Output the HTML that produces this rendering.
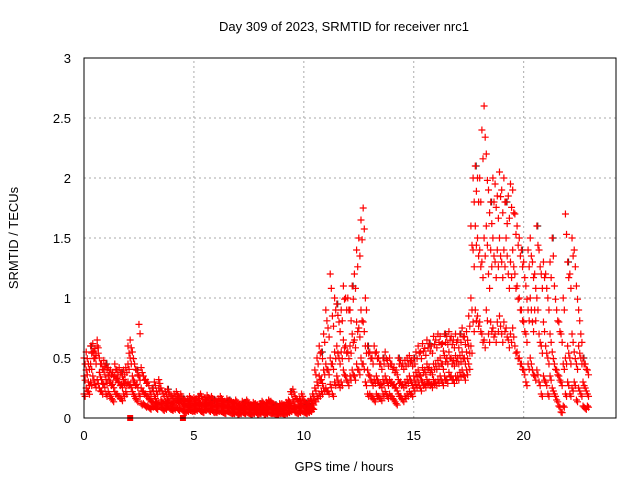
<!DOCTYPE html>
<html><head><meta charset="utf-8"><style>
body{margin:0;background:#fff}
svg{display:block;font-family:"Liberation Sans",sans-serif}
</style></head><body>
<svg id="chart" width="640" height="480">
<rect width="640" height="480" fill="#fff"/>
<text x="344" y="31" text-anchor="middle" font-size="13">Day 309 of 2023, SRMTID for receiver nrc1</text>
<text transform="translate(18,238) rotate(-90)" text-anchor="middle" font-size="13">SRMTID / TECUs</text>
<text x="344" y="471" text-anchor="middle" font-size="13">GPS time / hours</text>
<g id="grid"></g><g id="ticks"></g><g id="marks"></g>
<rect x="84" y="58" width="532" height="360" fill="none" stroke="#000"/>
</svg>
<script>
const xTicks=[0,5,10,15,20];
const yTicks=[0,0.5,1,1.5,2,2.5,3];
const yTickLabels=["0","0.5","1","1.5","2","2.5","3"];
const seriesA=[.35,.40,.30,.45,.55,.50,.60,.38,.32,.40,.32,.35,.30,.28,.35,.33,.30,.28,.32,.30,.45,.50,.35,.30,.28,.35,.25,.22,.20,.18,.15,.14,.18,.13,.25,.15,.12,.14,.16,.13,.12,.14,.16,.13,.15,.12,.10,.11,.12,.10,.12,.11,.13,.12,.10,.12,.13,.11,.12,.10,.10,.11,.12,.10,.09,.11,.10,.09,.08,.10,.08,.07,.09,.08,.10,.08,.07,.09,.08,.07,.08,.09,.07,.08,.10,.09,.08,.07,.06,.08,.08,.07,.09,.10,.12,.15,.10,.09,.10,.12,.10,.08,.09,.10,.12,.25,.30,.35,.32,.40,.45,.40,.50,.45,.55,.60,.50,.55,.65,.60,.55,.60,.70,.65,.80,.75,.90,.80,.60,.40,.35,.30,.32,.35,.30,.28,.32,.35,.30,.32,.30,.28,.25,.32,.30,.28,.30,.32,.35,.30,.35,.38,.40,.35,.42,.40,.45,.42,.40,.45,.45,.48,.50,.45,.52,.50,.55,.50,.48,.52,.50,.52,.55,.50,.55,.60,1.00,1.40,1.60,1.50,1.40,1.30,1.50,1.60,1.20,1.40,1.50,1.30,1.40,1.50,1.30,1.40,1.50,1.20,1.30,1.40,1.20,1.10,1.00,.90,.80,.70,.90,1.00,.80,.90,1.00,.70,.60,.80,.60,.50,.70,.55,.45,.40,.35,.30,.45,.50,.60,.50,.70,.55,.45,.60,.50,.30,.25,.20];
const seriesB=[.50,.55,.45,.60,.62,.58,.65,.50,.45,.48,.45,.42,.40,.38,.45,.40,.42,.38,.40,.42,.60,.65,.55,.45,.40,.78,.42,.35,.32,.30,.22,.25,.30,.22,.32,.25,.20,.22,.24,.20,.18,.20,.22,.18,.20,.16,.15,.16,.18,.15,.17,.16,.18,.20,.15,.17,.19,.16,.18,.15,.15,.16,.18,.15,.14,.16,.15,.14,.13,.15,.12,.11,.14,.13,.15,.12,.11,.13,.12,.11,.12,.14,.11,.13,.15,.14,.12,.11,.10,.12,.12,.11,.13,.15,.22,.24,.18,.15,.16,.20,.15,.12,.14,.16,.20,.40,.50,.60,.55,.70,.90,.75,1.20,.85,1.00,.95,.80,.90,1.10,1.00,1.00,.90,1.10,1.20,1.40,1.50,1.65,1.75,1.00,.60,.55,.50,.60,.55,.50,.45,.50,.55,.48,.50,.45,.42,.40,.50,.48,.45,.48,.50,.52,.48,.50,.55,.60,.55,.62,.58,.65,.62,.60,.68,.65,.70,.68,.62,.70,.68,.72,.68,.65,.70,.65,.70,.75,.68,.72,.85,1.60,2.00,2.10,2.00,2.00,2.40,2.60,2.20,1.90,1.80,2.00,1.95,1.85,2.05,1.90,2.00,1.80,1.85,1.95,1.90,1.70,1.60,1.50,1.40,1.30,1.10,1.40,1.50,1.30,1.20,1.60,1.40,1.20,1.30,1.20,1.00,1.30,1.50,1.10,.90,.80,.70,1.00,1.70,1.30,1.20,1.50,1.40,1.10,.90,.70,.50,.45,.40];
const seriesC=[.20,.25,.22,.30,.35,.28,.32,.25,.22,.28,.20,.22,.18,.15,.22,.20,.18,.16,.20,.22,.30,.28,.22,.18,.15,.20,.12,.12,.10,.10,.08,.10,.10,.08,.12,.09,.07,.08,.10,.08,.07,.08,.09,.07,.08,.06,.05,.06,.07,.06,.06,.07,.08,.06,.05,.07,.08,.06,.07,.05,.05,.06,.06,.05,.04,.06,.05,.04,.04,.05,.03,.04,.05,.04,.05,.04,.03,.04,.05,.03,.04,.05,.03,.04,.05,.04,.04,.03,.03,.04,.04,.03,.04,.05,.06,.08,.05,.04,.05,.06,.05,.04,.05,.06,.08,.15,.18,.20,.22,.25,.25,.22,.28,.20,.30,.35,.28,.30,.40,.35,.30,.35,.40,.35,.45,.40,.50,.45,.30,.20,.20,.18,.15,.20,.18,.16,.20,.22,.18,.20,.18,.15,.12,.20,.18,.15,.18,.20,.22,.20,.25,.28,.30,.25,.30,.28,.32,.30,.28,.32,.30,.32,.35,.30,.35,.32,.38,.35,.32,.35,.35,.38,.40,.35,.40,.45,.60,.80,.90,.85,.80,.70,.65,.90,.70,.80,.75,.70,.80,.85,.70,.80,.75,.65,.70,.75,.60,.55,.50,.45,.40,.30,.45,.50,.40,.35,.40,.30,.20,.35,.30,.20,.35,.25,.20,.15,.10,.05,.10,.20,.30,.20,.25,.30,.15,.25,.20,.10,.08,.10];
const squareTimes=[2.1,4.5];
const squareValues=[0,0];
const X0=84,X1=616,XMAX=24.2,Y0=418,Y1=58,YMAX=3;
const xs=v=>X0+(X1-X0)*v/XMAX, ys=v=>Y0-(Y0-Y1)*v/YMAX;
const NS="http://www.w3.org/2000/svg";
const grid=document.getElementById('grid'),ticks=document.getElementById('ticks'),marks=document.getElementById('marks');
function mk(tag,at,parent){const e=document.createElementNS(NS,tag);for(const k in at)e.setAttribute(k,at[k]);parent.appendChild(e);return e;}
xTicks.forEach(v=>{
 const x=xs(v);
 if(v>0){const g=mk('line',{x1:x,y1:Y0,x2:x,y2:Y1,stroke:'#aaa','stroke-dasharray':'2,3'},grid);
 
 }
 const t=mk('text',{x:x,y:Y0+22,'text-anchor':'middle','font-size':'13'},ticks);t.textContent=v;
 
 
});
yTicks.forEach((v,i)=>{
 const y=ys(v);
 if(v>0&&v<YMAX){const g=mk('line',{x1:X0,y1:y,x2:X1,y2:y,stroke:'#aaa','stroke-dasharray':'2,3'},grid);
 
 }
 const t=mk('text',{x:X0-13,y:y+5,'text-anchor':'end','font-size':'13'},ticks);t.textContent=yTickLabels[i];
 
 
});
function cross(t,v,col){
 const x=xs(t),y=ys(v);
 const p=mk('path',{d:`M${x-3.5} ${y}h7M${x} ${y-3.5}v7`,stroke:col,'stroke-width':'1.2',fill:'none'},marks);
 
 
}
[seriesA,seriesB,seriesC].forEach((s,si)=>s.forEach((v,i)=>{
 const t=i*0.1;
 if(si===1&&i%7===3)cross(t+0.04,v,'#333');
 cross(t,v,'#f00');
 cross(t+0.05,v*0.9,'#f00');
}));
squareTimes.forEach((t,i)=>{
 const r=mk('rect',{x:xs(t)-3,y:ys(squareValues[i])-3,width:6,height:6,fill:'#f00'},marks);
 
 
});
</script>
</body></html>
